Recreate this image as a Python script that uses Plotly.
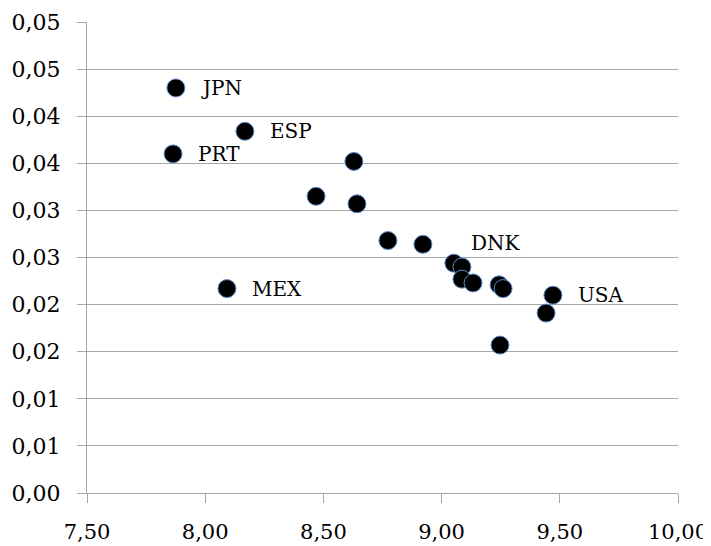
import plotly.graph_objects as go

# Data
x_vals = [7.876, 8.168, 7.864, 8.629, 8.469, 8.642, 8.773, 8.921, 9.052, 9.086,
          9.086, 9.133, 8.092, 9.243, 9.260, 9.471, 9.442, 9.247]
y_vals = [0.0430, 0.0384, 0.0360, 0.0352, 0.0315, 0.0307, 0.0268, 0.0264, 0.0244, 0.0240,
          0.0227, 0.0223, 0.0217, 0.0221, 0.0217, 0.0210, 0.0191, 0.0157]
labels = ["JPN", "ESP", "PRT", "", "", "", "", "", "DNK", "",
          "", "", "MEX", "", "", "USA", "", ""]

y_tickvals = [0.0, 0.005, 0.010, 0.015, 0.020, 0.025, 0.030, 0.035, 0.040, 0.045, 0.050]
y_ticktext = ["0,00", "0,01", "0,01", "0,02", "0,02", "0,03", "0,03", "0,04", "0,04", "0,05", "0,05"]
x_tickvals = [7.5, 8.0, 8.5, 9.0, 9.5, 10.0]
x_ticktext = ["7,50", "8,00", "8,50", "9,00", "9,50", "10,00"]

FONT = "DejaVu Serif"
GRID = "#a6a6a6"

fig = go.Figure()
fig.add_trace(go.Scatter(
    x=x_vals, y=y_vals, mode="markers",
    marker=dict(size=18, color="black", line=dict(color="#5b8ccc", width=1)),
    showlegend=False, hoverinfo="skip",
))

for xv, yv, lab in zip(x_vals, y_vals, labels):
    if not lab:
        continue
    dy = 20 if lab == "DNK" else 0
    dx = 15 if lab == "DNK" else 23
    fig.add_annotation(x=xv, y=yv, text=lab, showarrow=False,
                       xanchor="left", yanchor="middle", xshift=dx, yshift=dy,
                       font=dict(family=FONT, size=20, color="black"))

fig.update_layout(
    width=711, height=546,
    margin=dict(l=79, r=41, t=14, b=61),
    paper_bgcolor="white", plot_bgcolor="white",
    font=dict(family=FONT, size=20, color="black"),
)
fig.update_xaxes(range=[7.5, 10.0], tickvals=x_tickvals, ticktext=x_ticktext, automargin=False,
                 showgrid=False, zeroline=False, showline=True, linecolor=GRID, linewidth=1,
                 ticks="outside", ticklen=9, tickcolor=GRID, ticklabelstandoff=11,
                 tickfont=dict(family=FONT, size=21))
fig.update_yaxes(range=[0, 0.05], tickvals=y_tickvals, ticktext=y_ticktext, automargin=False,
                 showgrid=True, gridcolor=GRID, gridwidth=1, zeroline=False,
                 showline=True, linecolor=GRID, linewidth=1,
                 ticks="outside", ticklen=9, tickcolor=GRID, ticklabelstandoff=12,
                 tickfont=dict(family=FONT, size=22))

fig.write_html("out.html")
